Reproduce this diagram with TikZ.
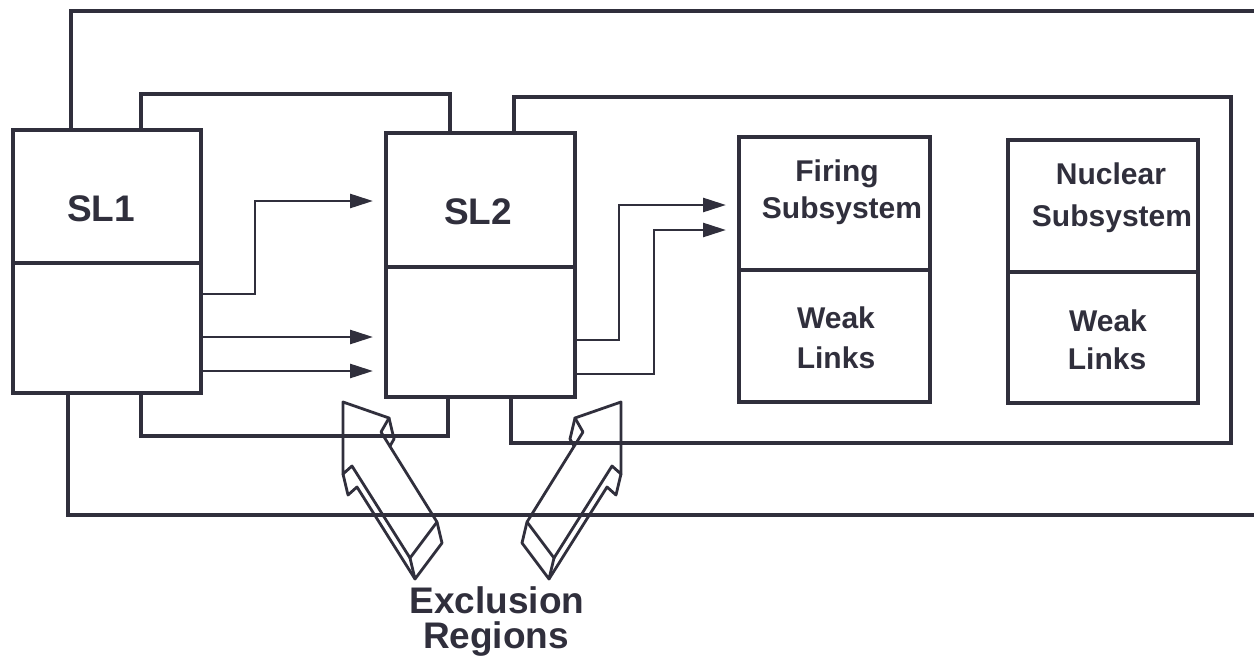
\documentclass[tikz,border=0pt]{standalone}
\usepackage{fontspec}
\setmainfont{Liberation Sans}
\usetikzlibrary{arrows.meta,calc}
\definecolor{ink}{RGB}{48,47,60}
\begin{document}
\begin{tikzpicture}[x=1pt,y=-1pt,
  ln/.style={draw=ink, line width=3.1pt},
  box/.style={draw=ink, line width=3.1pt, rectangle, inner sep=0pt, outer sep=0pt, anchor=north west},
  lbl/.style={text=ink, font=\bfseries\fontsize{30}{36}\selectfont, anchor=base, inner sep=0pt},
  big/.style={text=ink, font=\bfseries\fontsize{37}{44}\selectfont, anchor=base, inner sep=0pt},
  arr/.style={draw=ink, line width=2.6pt, -{Triangle[length=23pt,width=14pt]}, shorten >=13pt},
  xarr/.style={draw=ink, line width=2.8pt, line join=round, line cap=round},
  exarrow/.pic={
    \draw[xarr] (343,402) -- (389,418) -- (381,432) -- (437,522) -- (410,558) -- (352,466) -- (343,474) -- cycle;
    \draw[xarr] (389,418) -- (394,439) -- (390,446);
    \draw[xarr] (437,522) -- (442,543) -- (415,579) -- (410,558);
    \draw[xarr] (343,474) -- (348,495) -- (357,487) -- (415,579);
  }
]
\useasboundingbox (0,0) rectangle (1254,664);
\fill[white] (0,0) rectangle (1254,664);

% boxes
\node[box, minimum width=188pt, minimum height=133pt] (sl1t) at (13,130) {};
\node[box, minimum width=188pt, minimum height=130pt] (sl1b) at (sl1t.south west) {};
\node[box, minimum width=189pt, minimum height=134pt] (sl2t) at (386,133) {};
\node[box, minimum width=189pt, minimum height=130pt] (sl2b) at (sl2t.south west) {};
\node[box, minimum width=191pt, minimum height=133pt] (firt) at (739,137) {};
\node[box, minimum width=191pt, minimum height=132pt] (firb) at (firt.south west) {};
\node[box, minimum width=190pt, minimum height=132pt] (nuct) at (1008,140) {};
\node[box, minimum width=190pt, minimum height=131pt] (nucb) at (nuct.south west) {};

% labels
\node[big] (t1) at (101,221) {SL1};
\node[big] (t2) at (478,224) {SL2};
\node[lbl] (f1) at (837,181) {Firing};
\node[lbl] (f2) at (842,218) {Subsystem};
\node[lbl] (f3) at (836,328) {Weak};
\node[lbl] (f4) at (836,368) {Links};
\node[lbl] (n1) at (1111,184) {Nuclear};
\node[lbl] (n2) at (1112,226) {Subsystem};
\node[lbl] (n3) at (1108,331) {Weak};
\node[lbl] (n4) at (1107,369) {Links};
\node[big] (e1) at (497,613) {Exclusion};
\node[big] (e2) at (496,648) {Regions};

% loops
\draw[ln] (71,0 |- sl1t.north) -- (71,11) -- (1254,11);
\draw[ln] (68,0 |- sl1b.south) -- (68,515) -- (1254,515);
\draw[ln] (141,0 |- sl1t.north) -- (141,94) -- (450,94) -- (450,0 |- sl2t.north);
\draw[ln] (141,0 |- sl1b.south) -- (141,436) -- (448,436) -- (448,0 |- sl2b.south);
\draw[ln] (514,0 |- sl2t.north) -- (514,97) -- (1231,97) -- (1231,443) -- (511,443) -- (511,0 |- sl2b.south);

% signal arrows
\draw[arr] (sl1b.east |- 0,294) -- (255,294) -- (255,201) -- (sl2t.west |- 0,201);
\draw[arr] (sl1b.east |- 0,337) -- (sl2b.west |- 0,337);
\draw[arr] (sl1b.east |- 0,371) -- (sl2b.west |- 0,371);
\draw[arr] (sl2b.east |- 0,340) -- (619,340) -- (619,205) -- (firt.west |- 0,205);
\draw[arr] (sl2b.east |- 0,374) -- (654,374) -- (654,230) -- (firt.west |- 0,230);

% exclusion region arrows
\pic at (0,0) {exarrow};
\pic[xscale=-1] at (964,0) {exarrow};
\end{tikzpicture}
\end{document}
